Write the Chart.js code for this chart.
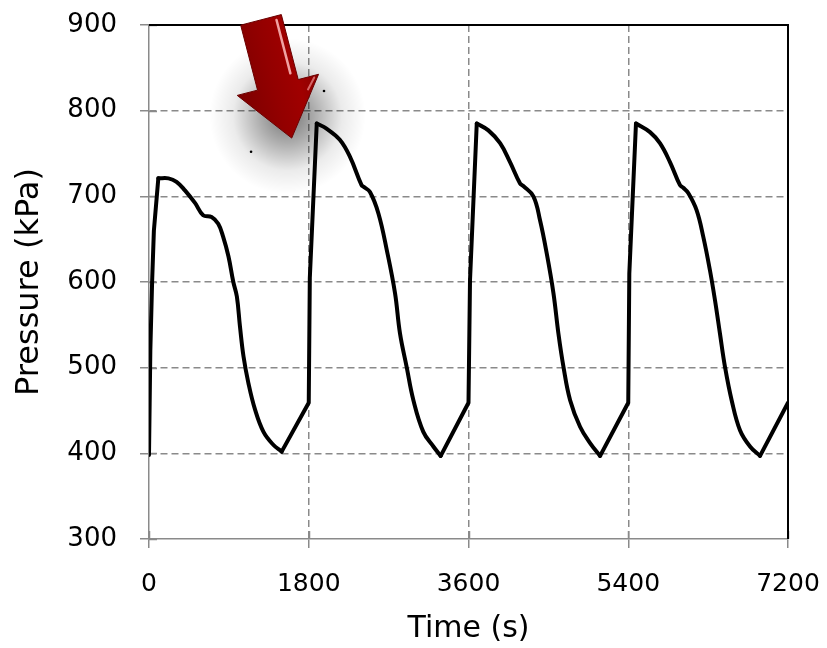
<!DOCTYPE html>
<html>
<head>
<meta charset="utf-8">
<script src="https://cdn.jsdelivr.net/npm/chart.js@4/dist/chart.umd.min.js"></script>
<style>
  html, body { margin: 0; padding: 0; background: #ffffff; }
  #wrap { width: 827px; height: 648px; }
</style>
</head>
<body>
<div id="wrap"><canvas id="c" width="827" height="648"></canvas></div>
<script>
// ---- Data ----
const cycle1Time     = [0, 15, 35, 55, 105, 220, 310, 405, 520, 610, 705, 780, 835, 895, 950, 990, 1025, 1065, 1120, 1195, 1290, 1400, 1495, 1800];
const cycle1Pressure = [398, 520, 600, 660, 721, 721, 717, 707, 692, 678, 676, 668, 653, 630, 600, 583, 548, 513, 482, 451, 425, 410, 402, 459];

const cycle2Time     = [1800, 1812, 1890, 2000, 2150, 2265, 2395, 2420, 2490, 2585, 2680, 2772, 2828, 2903, 2979, 3091, 3204, 3287, 3600];
const cycle2Pressure = [459, 605, 785, 779, 766, 746, 713, 711, 705, 680, 637, 587, 540, 501, 462, 425, 408, 397, 459];

const cycle3Time     = [3600, 3617, 3693, 3824, 3956, 4068, 4181, 4218, 4331, 4406, 4482, 4557, 4613, 4670, 4745, 4857, 4970, 5083, 5400];
const cycle3Pressure = [459, 602, 785, 777, 762, 740, 715, 712, 700, 672, 633, 587, 540, 501, 462, 431, 412, 397, 459];

const cycle4Time     = [5400, 5412, 5487, 5645, 5757, 5870, 5983, 6020, 6076, 6170, 6245, 6320, 6377, 6433, 6490, 6565, 6659, 6772, 6885, 7200];
const cycle4Pressure = [459, 610, 785, 775, 762, 740, 713, 710, 704, 684, 653, 614, 579, 540, 501, 462, 427, 408, 397, 459];

const speckTime     = [1150, 1972];
const speckPressure = [752, 823];

const xTicks = [0, 1800, 3600, 5400, 7200];
const yTicks = [300, 400, 500, 600, 700, 800, 900];

// annotation arrow (data coordinates of tail centre and tip)
const arrowTail = { time: 1262, pressure: 906 };
const arrowTip  = { time: 1608, pressure: 768 };

// ---- build series: straight parts (fill-up ramps) and smooth parts (decays) ----
const cycles = [[cycle1Time, cycle1Pressure], [cycle2Time, cycle2Pressure], [cycle3Time, cycle3Pressure], [cycle4Time, cycle4Pressure]];
const straightPts = [];
const smoothParts = [];
cycles.forEach(([T, P]) => {
  const peak = P.indexOf(Math.max(...P));
  let minI = peak;
  for (let i = peak; i < P.length; i++) if (P[i] < P[minI]) minI = i;
  for (let i = 0; i <= peak; i++) straightPts.push({ x: T[i], y: P[i] });
  straightPts.push({ x: T[peak], y: null });
  smoothParts.push(T.slice(peak, minI + 1).map((t, k) => ({ x: t, y: P[peak + k] })));
  for (let i = minI; i < T.length; i++) straightPts.push({ x: T[i], y: P[i] });
});
const speckPoints = speckTime.map((t, i) => ({ x: t, y: speckPressure[i] }));

const FONT = "'DejaVu Sans', sans-serif";
const AXIS_GRAY = '#8a8a8a';
const LINE_W = 4;

const framePlugin = {
  id: 'frame',
  beforeDatasetsDraw(chart) {
    const { ctx, chartArea: a, scales: { x, y } } = chart;
    ctx.save();
    ctx.strokeStyle = AXIS_GRAY;
    ctx.lineWidth = 1.5;
    ctx.beginPath();
    yTicks.forEach(v => {
      const py = Math.round(y.getPixelForValue(v)) + 0.5;
      ctx.moveTo(a.left, py); ctx.lineTo(a.left + 8, py);
    });
    xTicks.forEach(v => {
      const px = Math.round(x.getPixelForValue(v)) + 0.5;
      ctx.moveTo(px, a.bottom); ctx.lineTo(px, a.bottom - 8);
    });
    ctx.stroke();
    ctx.strokeStyle = '#000';
    ctx.lineWidth = 2;
    ctx.beginPath();
    ctx.moveTo(a.left, a.top); ctx.lineTo(a.right, a.top); ctx.lineTo(a.right, a.bottom);
    ctx.stroke();
    ctx.restore();
  }
};

const arrowPlugin = {
  id: 'arrow',
  afterDraw(chart) {
    const { ctx, scales: { x, y } } = chart;
    const tx = x.getPixelForValue(arrowTip.time), ty = y.getPixelForValue(arrowTip.pressure);
    const bx = x.getPixelForValue(arrowTail.time), by = y.getPixelForValue(arrowTail.pressure);
    const L = Math.hypot(bx - tx, by - ty);
    const ux = (bx - tx) / L, uy = (by - ty) / L;
    const vx = -uy, vy = ux;
    const P = (a, b) => [tx + ux * a + vx * b, ty + uy * a + vy * b];
    const headLen = 55, headHalf = 42, shaftHalf = 21;
    const poly = [P(0, 0), P(headLen, headHalf), P(headLen, shaftHalf), P(L, shaftHalf),
                  P(L, -shaftHalf), P(headLen, -shaftHalf), P(headLen, -headHalf)];
    ctx.save();
    const path = () => {
      ctx.beginPath();
      poly.forEach((p, i) => i ? ctx.lineTo(p[0], p[1]) : ctx.moveTo(p[0], p[1]));
      ctx.closePath();
    };
    // diffuse glow-shadow around the head
    const sc = P(32, 4);
    const sx = sc[0], sy = sc[1] + 10;
    const rg = ctx.createRadialGradient(sx, sy, 0, sx, sy, 78);
    rg.addColorStop(0, 'rgba(0,0,0,0.55)');
    rg.addColorStop(0.35, 'rgba(0,0,0,0.32)');
    rg.addColorStop(0.7, 'rgba(0,0,0,0.08)');
    rg.addColorStop(1, 'rgba(0,0,0,0)');
    ctx.fillStyle = rg;
    ctx.beginPath();
    ctx.arc(sx, sy, 78, 0, Math.PI * 2);
    ctx.fill();
    // body
    const gl = P(headLen, -headHalf), gr = P(headLen, headHalf);
    const g = ctx.createLinearGradient(gl[0], gl[1], gr[0], gr[1]);
    g.addColorStop(0, '#7c0000');
    g.addColorStop(0.45, '#930000');
    g.addColorStop(0.75, '#a00000');
    g.addColorStop(1, '#8a0000');
    path();
    ctx.fillStyle = g;
    ctx.fill();
    ctx.strokeStyle = '#6a0000';
    ctx.lineWidth = 1;
    ctx.stroke();
    const h1 = P(L - 4, shaftHalf - 6), h2 = P(headLen + 8, shaftHalf - 6);
    ctx.strokeStyle = 'rgba(255,190,190,0.85)';
    ctx.lineWidth = 2.5;
    ctx.lineCap = 'round';
    ctx.beginPath(); ctx.moveTo(h1[0], h1[1]); ctx.lineTo(h2[0], h2[1]); ctx.stroke();
    const h3 = P(headLen - 2, headHalf - 5), h4 = P(headLen - 12, headHalf - 14);
    ctx.strokeStyle = 'rgba(255,170,170,0.6)';
    ctx.lineWidth = 2;
    ctx.beginPath(); ctx.moveTo(h3[0], h3[1]); ctx.lineTo(h4[0], h4[1]); ctx.stroke();
    ctx.restore();
  }
};

const lineStyle = { borderColor: '#000000', borderWidth: LINE_W, pointRadius: 0, fill: false, borderJoinStyle: 'round', borderCapStyle: 'round' };

new Chart(document.getElementById('c'), {
  type: 'line',
  data: {
    datasets: [
      Object.assign({ label: 'Pressure (ramps)', data: straightPts, tension: 0, spanGaps: false }, lineStyle)
    ].concat(smoothParts.map((pts, i) => Object.assign({ label: 'Pressure (decay ' + (i + 1) + ')', data: pts, tension: 0.4 }, lineStyle)))
     .concat([{
        label: 'specks',
        data: speckPoints,
        showLine: false,
        pointRadius: 1.3,
        pointBackgroundColor: '#000',
        pointBorderWidth: 0
      }])
  },
  options: {
    responsive: false,
    animation: false,
    layout: { padding: { left: 0, right: 39, top: 25, bottom: 0 } },
    plugins: { legend: { display: false }, tooltip: { enabled: false } },
    scales: {
      x: {
        type: 'linear',
        min: 0, max: 7200,
        afterBuildTicks(scale) { scale.ticks = xTicks.map(v => ({ value: v })); },
        afterFit(scale) { scale.height = 109; scale.paddingLeft = 0; scale.paddingRight = 0; },
        ticks: { color: '#000', font: { family: FONT, size: 25 }, padding: 21, maxRotation: 0, autoSkip: false, callback: v => String(v) },
        grid: {
          color: c => (c.tick && (c.tick.value === 0 || c.tick.value === 7200)) ? 'rgba(0,0,0,0)' : AXIS_GRAY,
          lineWidth: 1.5,
          tickLength: 9,
          tickColor: AXIS_GRAY,
          tickWidth: 1.5
        },
        border: { display: true, color: AXIS_GRAY, width: 1.5, dash: [7, 4] },
        title: { display: true, text: 'Time (s)', color: '#000', font: { family: FONT, size: 30 }, padding: { top: 4, bottom: 1 } }
      },
      y: {
        type: 'linear',
        min: 300, max: 900,
        afterBuildTicks(scale) { scale.ticks = yTicks.map(v => ({ value: v })); },
        afterFit(scale) { scale.width = 149; scale.paddingTop = 0; scale.paddingBottom = 0; },
        ticks: { color: '#000', font: { family: FONT, size: 26 }, padding: 23, callback: v => String(v) },
        grid: {
          color: c => (c.tick && (c.tick.value === 300 || c.tick.value === 900)) ? 'rgba(0,0,0,0)' : AXIS_GRAY,
          lineWidth: 1.5,
          tickLength: 9,
          tickColor: AXIS_GRAY,
          tickWidth: 1.5
        },
        border: { display: true, color: AXIS_GRAY, width: 1.5, dash: [7, 4] },
        title: { display: true, text: 'Pressure (kPa)', color: '#000', font: { family: FONT, size: 32 }, padding: { top: 10, bottom: 4 } }
      }
    }
  },
  plugins: [framePlugin, arrowPlugin]
});
</script>
</body>
</html>
